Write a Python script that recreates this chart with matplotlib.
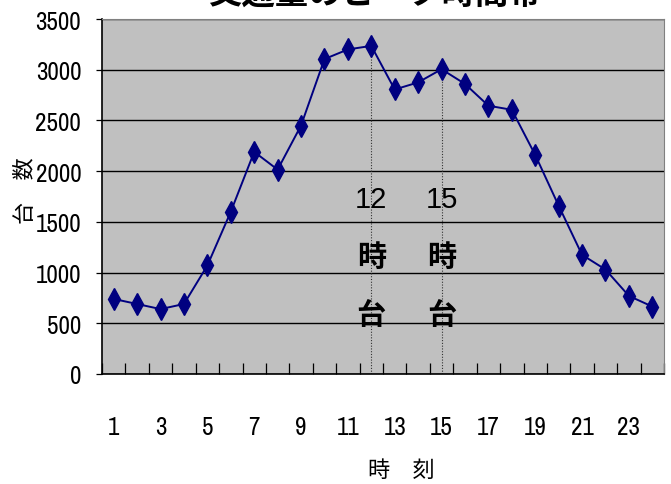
"""Hourly traffic volume line chart (Excel-style look)."""
import matplotlib
matplotlib.use("Agg")
import matplotlib.pyplot as plt
from matplotlib import font_manager

hours = list(range(1, 25))
counts = [740, 690, 640, 690, 1070, 1600, 2190, 2015, 2450, 3105,
          3200, 3235, 2805, 2875, 3005, 2860, 2645, 2605, 2160, 1660,
          1175, 1030, 770, 665]
peak_hours = [12, 15]
yticks = [0, 500, 1000, 1500, 2000, 2500, 3000, 3500]
xtick_labels = list(range(1, 24, 2))

title = "交通量のピーク時間帯"
xlabel = "時　刻"
ylabel = "台　数"

JP = ["Noto Sans CJK JP", "DejaVu Sans"]
names = {f.name for f in font_manager.fontManager.ttflist}
NUM = next((n for n in ["Liberation Sans Narrow", "Archivo Narrow", "PT Sans Narrow",
                        "Roboto Condensed", "Open Sans Condensed", "Liberation Sans"]
            if n in names), "DejaVu Sans")

fig = plt.figure(figsize=(6.71, 4.85), dpi=100)
ax = fig.add_axes([102 / 671, 1 - 375 / 485, 562 / 671, 355 / 485])
ax.set_facecolor("#c0c0c0")

ax.plot(hours, counts, "-", color="#000080", lw=1.4, marker="d",
        ms=11, mfc="#000080", mec="#000080", zorder=3)

# dotted drop lines + vertical labels at the two peaks
for h in peak_hours:
    v = counts[hours.index(h)]
    ax.vlines(h, 0, v, colors="#333333", linestyles=(0, (1, 1.5)), lw=0.8, zorder=2)
    ax.text(h, 1730, f"{h}", ha="center", va="center", fontsize=21,
            fontfamily="Liberation Sans", color="black")
    ax.text(h, 1160, "時", ha="center", va="center", fontsize=21,
            fontweight="bold", family=JP)
    ax.text(h, 590, "台", ha="center", va="center", fontsize=21,
            fontweight="bold", family=JP)

ax.set_xlim(0.5, 24.5)
ax.set_ylim(0, 3500)
ax.set_yticks(yticks)
ax.set_yticklabels([str(t) for t in yticks], fontfamily=NUM, fontsize=18)
ax.yaxis.grid(True, color="black", lw=1.0)
ax.set_axisbelow(True)

# category boundaries carry tick marks, labels sit on odd categories
ax.set_xticks([h + 0.5 for h in hours[:-1]] + [0.5, 24.5])
ax.tick_params(axis="x", direction="in", length=8, width=0.9, labelbottom=False)
ax.tick_params(axis="y", direction="out", length=4, width=0.9, pad=11)
for h in xtick_labels:
    ax.text(h, -520, str(h), ha="center", va="center", fontsize=18,
            fontfamily=NUM, transform=ax.transData)

for s in ("top", "right"):
    ax.spines[s].set_color("#808080")
for s in ("left", "bottom"):
    ax.spines[s].set_color("black")
    ax.spines[s].set_linewidth(1.2)

fig.text(401 / 671, 1 - 470 / 485, xlabel, ha="center", va="center",
         fontsize=16, family=JP)
fig.text(26 / 671, 1 - 191 / 485, ylabel, ha="center", va="center",
         fontsize=16, family=JP, rotation=90)
fig.text(375 / 671, 1 - 12 / 485, title, ha="center", va="bottom",
         fontsize=24, fontweight="bold", family=JP)

fig.savefig("out.png", dpi=100)
